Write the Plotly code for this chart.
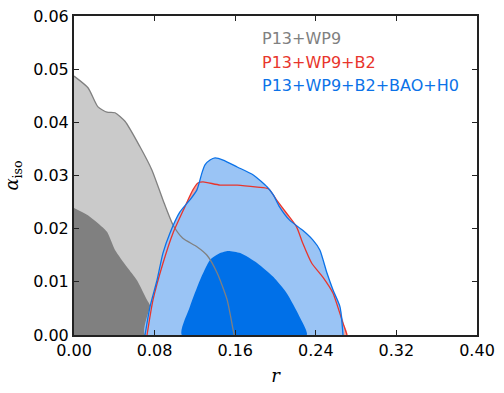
import plotly.graph_objects as go

# P13+WP9 (gray) contours
gray95_r = [0.0, 0.0139, 0.0238, 0.0328, 0.0407, 0.0506, 0.0655, 0.0774, 0.0883,
            0.0983, 0.108, 0.122, 0.132, 0.142, 0.152, 0.158, 0.159]
gray95_a = [0.0487, 0.0465, 0.0429, 0.0419, 0.0418, 0.0402, 0.0354, 0.0310, 0.0254,
            0.0207, 0.0182, 0.0166, 0.0150, 0.0117, 0.0066, 0.0009, 0.0]
gray68_r = [0.0, 0.0129, 0.0258, 0.0328, 0.0407, 0.0526, 0.0625, 0.0725, 0.0754, 0.080]
gray68_a = [0.0239, 0.0226, 0.0207, 0.0194, 0.0160, 0.0128, 0.0103, 0.0066, 0.0056, 0.0]

# P13+WP9+B2 (red) 95% contour
red95_r = [0.0725, 0.0784, 0.0883, 0.0983, 0.110, 0.118, 0.123, 0.128, 0.145, 0.162,
           0.182, 0.193, 0.201, 0.211, 0.221, 0.227, 0.236, 0.247, 0.257, 0.266, 0.271]
red95_a = [0.0, 0.0066, 0.0135, 0.0192, 0.0241, 0.0273, 0.0286, 0.0288, 0.0282, 0.0282,
           0.0278, 0.0275, 0.0254, 0.0229, 0.0203, 0.0173, 0.0135, 0.0109, 0.0079, 0.0028, 0.0]

# P13+WP9+B2+BAO+H0 (blue) contours
blue95_r = [0.0705, 0.0754, 0.0824, 0.0883, 0.0953, 0.105, 0.115, 0.122, 0.127, 0.130,
            0.135, 0.140, 0.148, 0.162, 0.178, 0.192, 0.198, 0.204, 0.214, 0.227, 0.237,
            0.244, 0.251, 0.257, 0.264, 0.267]
blue95_a = [0.0, 0.0053, 0.0103, 0.0154, 0.0192, 0.0231, 0.0254, 0.0273, 0.0305, 0.0320,
            0.0329, 0.0333, 0.0329, 0.0316, 0.0301, 0.0278, 0.0263, 0.0241, 0.0216, 0.0197,
            0.0179, 0.0160, 0.0117, 0.0085, 0.0053, 0.0]
blue68_r = [0.107, 0.115, 0.125, 0.135, 0.145, 0.153, 0.165, 0.182, 0.198, 0.211, 0.224, 0.231]
blue68_a = [0.0, 0.0053, 0.0103, 0.0141, 0.0154, 0.0158, 0.0154, 0.0135, 0.0109, 0.0079, 0.0034, 0.0]

x_ticks = [0.0, 0.08, 0.16, 0.24, 0.32, 0.40]
y_ticks = [0.0, 0.01, 0.02, 0.03, 0.04, 0.05, 0.06]

GRAY_LIGHT = "#cacaca"
GRAY_DARK = "#808080"
RED = "#e8352c"
RED_FILL = "#f2a7a0"
BLUE = "#0b72e8"
BLUE_LIGHT = "#9ac4f5"
BLUE_DARK = "#0070e8"


def closed(xs, ys, corner=False):
    # close the region along the r axis (and the alpha axis for the gray ones)
    if corner:
        return xs + [0.0], ys + [0.0]
    return xs + [xs[0]], ys + [ys[0]]


fig = go.Figure()


def add_fill(xs, ys, color, corner=False):
    px, py = closed(xs, ys, corner)
    fig.add_trace(go.Scatter(x=px, y=py, mode="lines", fill="toself", fillcolor=color,
                             line=dict(width=0, color=color, shape="spline", smoothing=0.6),
                             hoverinfo="skip", showlegend=False))


def add_line(xs, ys, color):
    fig.add_trace(go.Scatter(x=xs, y=ys, mode="lines",
                             line=dict(width=1.3, color=color, shape="spline", smoothing=0.6),
                             hoverinfo="skip", showlegend=False))


add_fill(gray95_r, gray95_a, GRAY_LIGHT, corner=True)
add_fill(gray68_r, gray68_a, GRAY_DARK, corner=True)
add_fill(red95_r, red95_a, RED_FILL)
add_fill(blue95_r, blue95_a, BLUE_LIGHT)
add_fill(blue68_r, blue68_a, BLUE_DARK)
add_line(gray95_r, gray95_a, GRAY_DARK)
add_line(red95_r, red95_a, RED)
add_line(blue95_r, blue95_a, BLUE)

labels = ["P13+WP9", "P13+WP9+B2", "P13+WP9+B2+BAO+H0"]
label_colors = [GRAY_DARK, RED, BLUE]
for i, (txt, col) in enumerate(zip(labels, label_colors)):
    fig.add_annotation(x=0.1846, y=0.0557 - i * 0.0044, xref="x", yref="y", text=txt,
                       showarrow=False, xanchor="left", yanchor="middle",
                       font=dict(family="DejaVu Sans", size=16, color=col))

axis_style = dict(showline=True, linecolor="#222222", linewidth=2, mirror="allticks",
                  ticks="inside", ticklen=5, tickwidth=1, tickcolor="#222222",
                  showgrid=False, zeroline=False, automargin=False,
                  tickfont=dict(family="DejaVu Sans", size=16, color="black"))

fig.update_layout(
    width=504, height=393,
    margin=dict(l=74, r=27, t=16, b=58),
    plot_bgcolor="white", paper_bgcolor="white",
    xaxis=dict(range=[0, 0.40], tickvals=x_ticks, ticktext=[f"{v:.2f}" for v in x_ticks],
               title=dict(text="<i>r</i>", font=dict(family="DejaVu Serif", size=18, color="black"),
                          standoff=10),
               **axis_style),
    yaxis=dict(range=[0, 0.06], tickvals=y_ticks, ticktext=[f"{v:.2f}" for v in y_ticks],
               title=dict(text="<i>α</i><sub>iso</sub>",
                          font=dict(family="DejaVu Serif", size=18, color="black"),
                          standoff=10),
               **axis_style),
)

# the page's default 8px body margin would shift the figure
fig.write_html("out.html", config={"displayModeBar": False},
               post_script="document.body.style.margin='0px';")
